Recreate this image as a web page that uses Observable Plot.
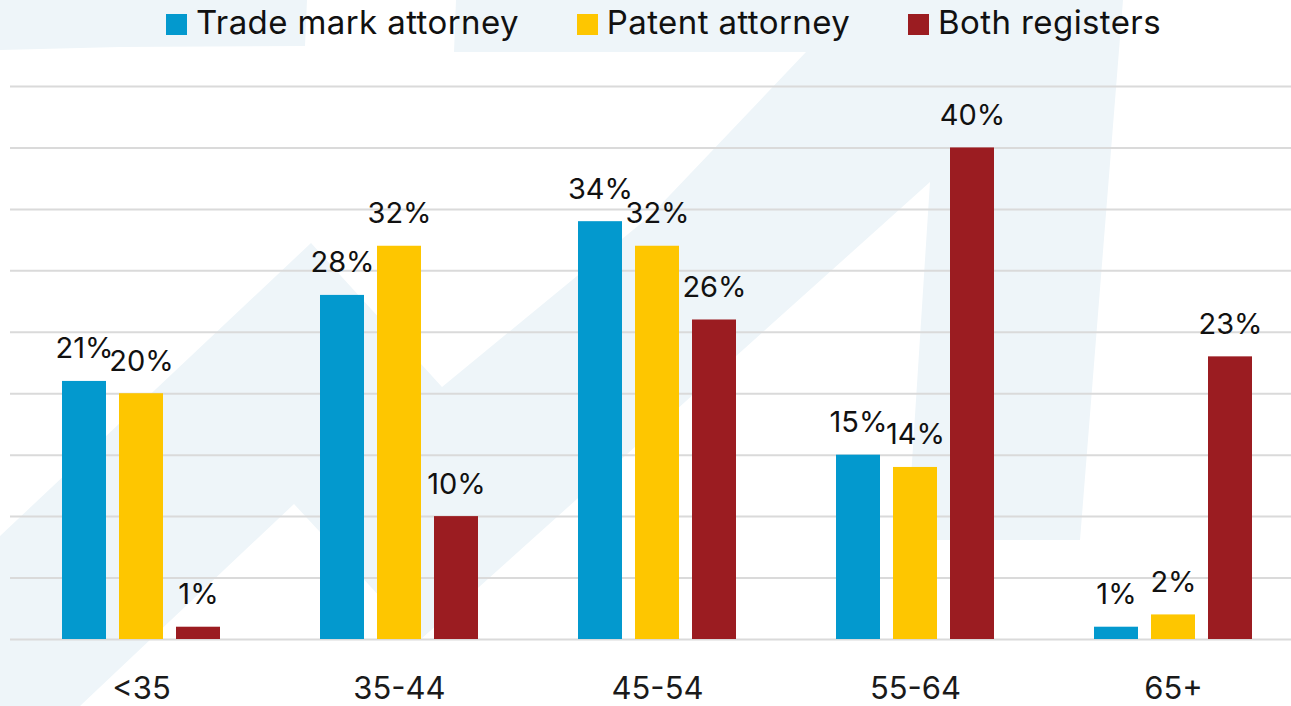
<!DOCTYPE html>
<html>
<head>
<meta charset="utf-8">
<script src="https://cdn.jsdelivr.net/npm/d3@7"></script>
<script src="https://cdn.jsdelivr.net/npm/@observablehq/plot@0.6"></script>
<style>
  html, body { margin: 0; padding: 0; background: #fff; }
  #wrap { position: relative; width: 1291px; height: 706px; overflow: hidden; font-family: Inter, "Open Sans", sans-serif; }
  #deco { position: absolute; left: 0; top: 0; z-index: 0; }
  #legend { position: relative; z-index: 1; height: 45px; display: flex; justify-content: center; align-items: center; padding-left: 36px; box-sizing: border-box; width: 1291px; }
  .item { display: flex; align-items: center; margin: 0 29px; }
  .sw { width: 21px; height: 21px; margin-right: 9px; margin-top: 3px; }
  .lab { font-size: 33px; letter-spacing: 0.4px; line-height: 45px; color: #111; font-weight: 400; }
  #chart { position: relative; z-index: 1; }
</style>
</head>
<body>
<div id="wrap">
  <svg id="deco" width="1291" height="706">
    <polygon fill="#eef5f9" points="0,0 307,0 305,46 120,47 0,50"/>
    <polygon fill="#eef5f9" points="0,536 311,243 442,387 650,216 806,52 454,52 456,0 1123,0 1080,540 907,540 930,182 420,640 294,504 80,706 0,706"/>
  </svg>
  <div id="legend"></div>
  <div id="chart"></div>
</div>
<script>
// ---- data ----
const groups = ["<35", "35-44", "45-54", "55-64", "65+"];
const seriesNames = ["Trade mark attorney", "Patent attorney", "Both registers"];
const tradeMark = [21, 28, 34, 15, 1];
const patent = [20, 32, 32, 14, 2];
const bothRegisters = [1, 10, 26, 40, 23];
const seriesColors = ["#0399ce", "#fec600", "#9b1c21"];
const yTicks = [0, 5, 10, 15, 20, 25, 30, 35, 40, 45];

const seriesValues = [tradeMark, patent, bothRegisters];
const rows = [];
seriesNames.forEach((s, i) => groups.forEach((g, j) => rows.push({group: g, series: s, value: seriesValues[i][j]})));

// ---- legend ----
const legend = document.getElementById("legend");
seriesNames.forEach((s, i) => {
  const it = document.createElement("div"); it.className = "item";
  const sw = document.createElement("div"); sw.className = "sw"; sw.style.background = seriesColors[i];
  const lb = document.createElement("span"); lb.className = "lab"; lb.textContent = s;
  it.appendChild(sw); it.appendChild(lb); legend.appendChild(it);
});

// ---- chart ----
const offsets = [-57, 0, 57];
const chart = Plot.plot({
  width: 1291,
  height: 661,
  marginLeft: 10,
  marginRight: 0,
  marginTop: 41,
  marginBottom: 67,
  style: {background: "transparent", fontFamily: "Inter, 'Open Sans', sans-serif", fontSize: "31px", color: "#1a1a1a", overflow: "visible"},
  x: {type: "band", domain: groups, range: [11, 1303], paddingInner: 0.828, paddingOuter: 0.413, align: 0.5, label: null, tickSize: 0, tickPadding: 37},
  y: {domain: [0, 45], axis: null},
  color: {domain: seriesNames, range: seriesColors},
  marks: [
    Plot.ruleY(yTicks, {stroke: "#dadada", strokeWidth: 2}),
    ...seriesNames.map((s, i) => Plot.barY(rows.filter(r => r.series === s), {x: "group", y: "value", fill: "series", dx: offsets[i]})),
    ...seriesNames.map((s, i) => Plot.text(rows.filter(r => r.series === s), {x: "group", y: "value", text: d => d.value + "%", dx: offsets[i], dy: -23, lineAnchor: "bottom", fontSize: 29, fill: "#111"}))
  ]
});
document.getElementById("chart").appendChild(chart);
</script>
</body>
</html>
